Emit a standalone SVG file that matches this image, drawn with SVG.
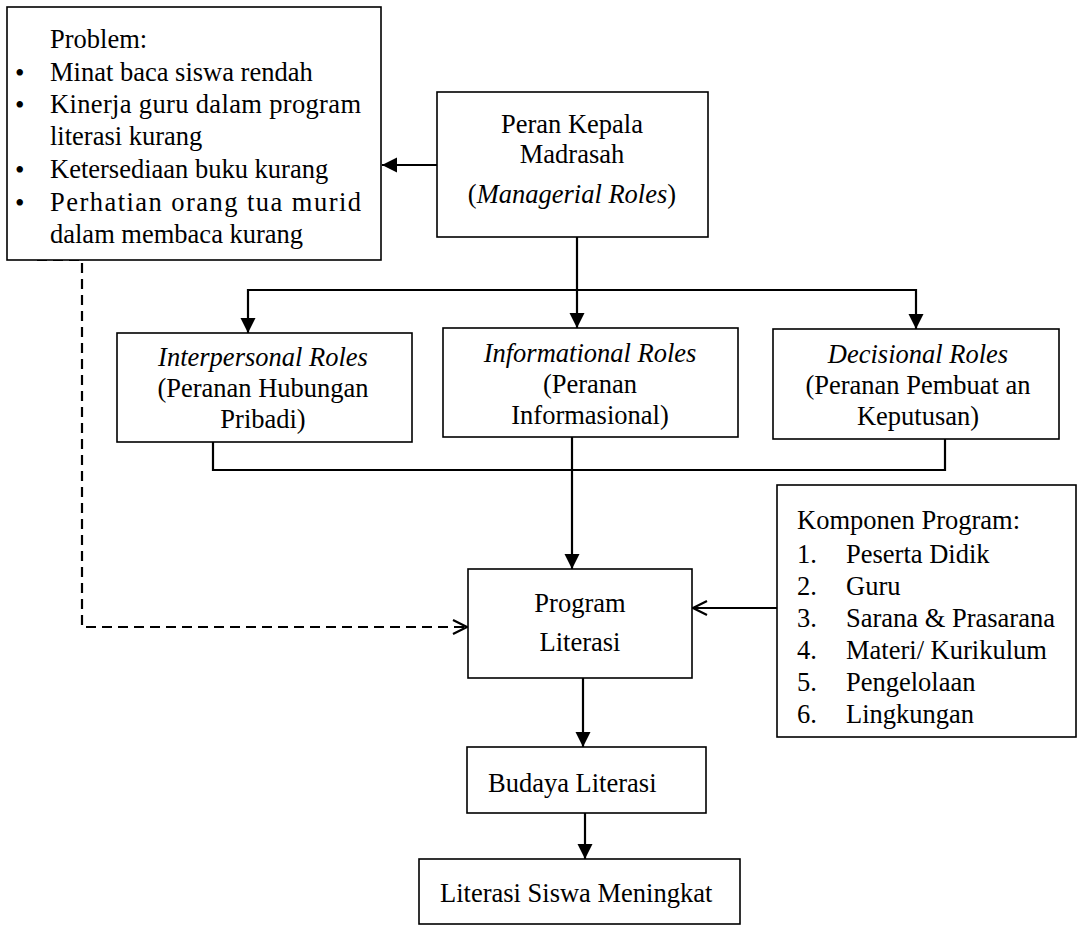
<svg xmlns="http://www.w3.org/2000/svg" width="1079" height="928" viewBox="0 0 1079 928">
  <style>
    .box { fill: #fff; stroke: #000; stroke-width: 1.6; }
    .t { font-family: "Liberation Serif", "Times New Roman", serif; font-size: 26.5px; fill: #000; }
    .bul { font-size: 27px; }
    .c { text-anchor: middle; }
    .i { font-style: italic; }
    .ln { fill: none; stroke: #000; stroke-width: 2.2; }
    .dash { fill: none; stroke: #000; stroke-width: 2.2; stroke-dasharray: 10 6; }
  </style>
  <defs>
    <marker id="solid" markerUnits="userSpaceOnUse" markerWidth="16" markerHeight="16" refX="15" refY="8" orient="auto">
      <path d="M0,0.5 L15,8 L0,15.5 z" fill="#000"/>
    </marker>
    <marker id="open" markerUnits="userSpaceOnUse" markerWidth="18" markerHeight="18" refX="15" refY="9" orient="auto">
      <path d="M1,2 L15,9 L1,16" fill="none" stroke="#000" stroke-width="2.2" stroke-dasharray="none"/>
    </marker>
  </defs>
  <rect width="1079" height="928" fill="#fff"/>

  <!-- connectors -->
  <g id="connectors">
    <line class="ln" x1="437" y1="165" x2="382" y2="165" marker-end="url(#solid)"/>
    <line class="ln" x1="577" y1="237" x2="577" y2="290"/>
    <line class="ln" x1="248" y1="290" x2="916" y2="290"/>
    <line class="ln" x1="248" y1="289" x2="248" y2="333" marker-end="url(#solid)"/>
    <line class="ln" x1="577" y1="290" x2="577" y2="328" marker-end="url(#solid)"/>
    <line class="ln" x1="916" y1="289" x2="916" y2="329" marker-end="url(#solid)"/>
    <polyline class="ln" points="213,442 213,470 945,470 945,439"/>
    <line class="ln" x1="572" y1="437" x2="572" y2="569" marker-end="url(#solid)"/>
    <line class="ln" x1="777" y1="608" x2="693" y2="608" marker-end="url(#open)"/>
    <polyline class="dash" points="37,260 82,260 82,627 467,627" marker-end="url(#open)"/>
    <line class="ln" x1="583" y1="678" x2="583" y2="747" marker-end="url(#solid)"/>
    <line class="ln" x1="585" y1="813" x2="585" y2="859" marker-end="url(#solid)"/>
  </g>

  <!-- problem list: bullet and item share one text line -->
  <g id="problem">
    <rect class="box" x="7" y="7" width="374" height="253"/>
    <text class="t" x="50" y="48">Problem:</text>
    <text class="t"><tspan class="bul" x="15" y="82">•</tspan><tspan x="50" y="81">Minat baca siswa rendah</tspan></text>
    <text class="t"><tspan class="bul" x="15" y="114">•</tspan><tspan x="50" y="113" textLength="311" lengthAdjust="spacing">Kinerja guru dalam program</tspan></text>
    <text class="t" x="50" y="145">literasi kurang</text>
    <text class="t"><tspan class="bul" x="15" y="179">•</tspan><tspan x="50" y="178">Ketersediaan buku kurang</tspan></text>
    <text class="t"><tspan class="bul" x="15" y="212">•</tspan><tspan x="50" y="211" textLength="311" lengthAdjust="spacing">Perhatian orang tua murid</tspan></text>
    <text class="t" x="50" y="243">dalam membaca kurang</text>
  </g>

  <!-- head of madrasah -->
  <g id="kepala">
    <rect class="box" x="437" y="92" width="271" height="145"/>
    <text class="t c" x="572" y="133">Peran Kepala</text>
    <text class="t c" x="572" y="163">Madrasah</text>
    <text class="t c" x="572" y="203">(<tspan class="i">Managerial Roles</tspan>)</text>
  </g>

  <!-- three roles -->
  <g id="interpersonal">
    <rect class="box" x="117" y="333" width="295" height="109"/>
    <text class="t c i" x="263" y="366">Interpersonal Roles</text>
    <text class="t c" x="263" y="397">(Peranan Hubungan</text>
    <text class="t c" x="263" y="428">Pribadi)</text>
  </g>
  <g id="informational">
    <rect class="box" x="443" y="328" width="295" height="109"/>
    <text class="t c i" x="590" y="362">Informational Roles</text>
    <text class="t c" x="590" y="393">(Peranan</text>
    <text class="t c" x="590" y="424">Informasional)</text>
  </g>
  <g id="decisional">
    <rect class="box" x="773" y="329" width="286" height="110"/>
    <text class="t c i" x="918" y="363">Decisional Roles</text>
    <text class="t c" x="918" y="394">(Peranan Pembuat an</text>
    <text class="t c" x="918" y="425">Keputusan)</text>
  </g>

  <!-- literacy programme -->
  <g id="program">
    <rect class="box" x="468" y="569" width="224" height="109"/>
    <text class="t c" x="580" y="612">Program</text>
    <text class="t c" x="580" y="651">Literasi</text>
  </g>

  <!-- programme components -->
  <g id="komponen">
    <rect class="box" x="777" y="485" width="299" height="252"/>
    <text class="t" x="797" y="529">Komponen Program:</text>
    <text class="t" x="797" y="563">1.</text><text class="t" x="846" y="563">Peserta Didik</text>
    <text class="t" x="797" y="595">2.</text><text class="t" x="846" y="595">Guru</text>
    <text class="t" x="797" y="627">3.</text><text class="t" x="846" y="627">Sarana &amp; Prasarana</text>
    <text class="t" x="797" y="659">4.</text><text class="t" x="846" y="659">Materi/ Kurikulum</text>
    <text class="t" x="797" y="691">5.</text><text class="t" x="846" y="691">Pengelolaan</text>
    <text class="t" x="797" y="723">6.</text><text class="t" x="846" y="723">Lingkungan</text>
  </g>

  <g id="budaya">
    <rect class="box" x="467" y="747" width="239" height="66"/>
    <text class="t" x="488" y="792">Budaya Literasi</text>
  </g>

  <g id="meningkat">
    <rect class="box" x="419" y="859" width="321" height="65"/>
    <text class="t" x="440" y="902">Literasi Siswa Meningkat</text>
  </g>
</svg>
